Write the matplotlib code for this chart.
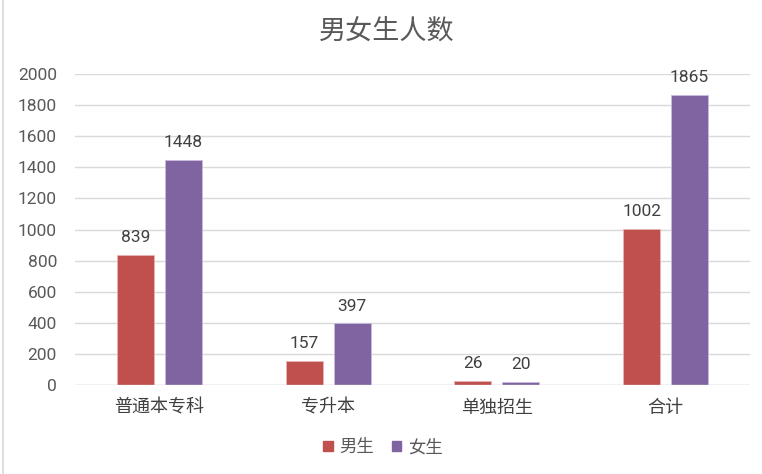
import numpy as np
import matplotlib
matplotlib.use("Agg")
import matplotlib.pyplot as plt
from matplotlib.patches import Patch

FAM = ["Roboto", "Noto Sans CJK SC", "DejaVu Sans"]
plt.rcParams["font.family"] = FAM

categories = ["普通本专科", "专升本", "单独招生", "合计"]
male = [839, 157, 26, 1002]
female = [1448, 397, 20, 1865]
series_names = ["男生", "女生"]
yticks = list(range(0, 2001, 200))

RED, PURPLE = "#C0504D", "#8064A2"
TXT, GRID = "#595959", "#D9D9D9"

fig = plt.figure(figsize=(7.62, 4.74), dpi=100)
ax = fig.add_axes([75 / 762, 1 - 385 / 474, 675 / 762, 311 / 474])

x = np.arange(len(categories))
w, off = 0.22, 0.142
b1 = ax.bar(x - off, male, w, color=RED, edgecolor="#E8B5B4", linewidth=0.6, zorder=3)
b2 = ax.bar(x + off, female, w, color=PURPLE, edgecolor="#C9BBDB", linewidth=0.6, zorder=3)
for bars, vals in ((b1, male), (b2, female)):
    for r, v in zip(bars, vals):
        ax.annotate(str(v), (r.get_x() + r.get_width() / 2, v), xytext=(0, 7),
                    textcoords="offset points", ha="center", va="bottom",
                    fontsize=12.5, color="#404040")

ax.set_xlim(-0.5, len(categories) - 0.5)
ax.set_ylim(0, 2000)
ax.set_yticks(yticks)
ax.set_xticks(x)
ax.set_xticklabels(categories, fontsize=13, color="#404040")
ax.tick_params(axis="y", labelsize=12.5, labelcolor=TXT, length=0, pad=13)
ax.tick_params(axis="x", length=0, pad=10)
ax.grid(axis="y", color=GRID, linewidth=1.0, zorder=0)
for s in ax.spines.values():
    s.set_visible(False)
ax.axhline(0, color=GRID, linewidth=1.0, zorder=4)

fig.text(387 / 762, 1 - 31 / 474, "男女生人数", ha="center", va="center",
         fontsize=19.5, color=TXT)
fig.legend(handles=[Patch(color=RED, label=series_names[0]),
                    Patch(color=PURPLE, label=series_names[1])],
           loc="center", bbox_to_anchor=(383 / 762, 1 - 447 / 474), ncol=2,
           frameon=False, fontsize=12.5, handlelength=0.55, handleheight=0.55,
           handletextpad=0.4, columnspacing=1.0, labelcolor=TXT)

# left page border
fig.add_artist(plt.Line2D([3 / 762, 3 / 762], [0, 1], color="#D9D9D9", linewidth=1.2))

fig.savefig("out.png", dpi=100)
